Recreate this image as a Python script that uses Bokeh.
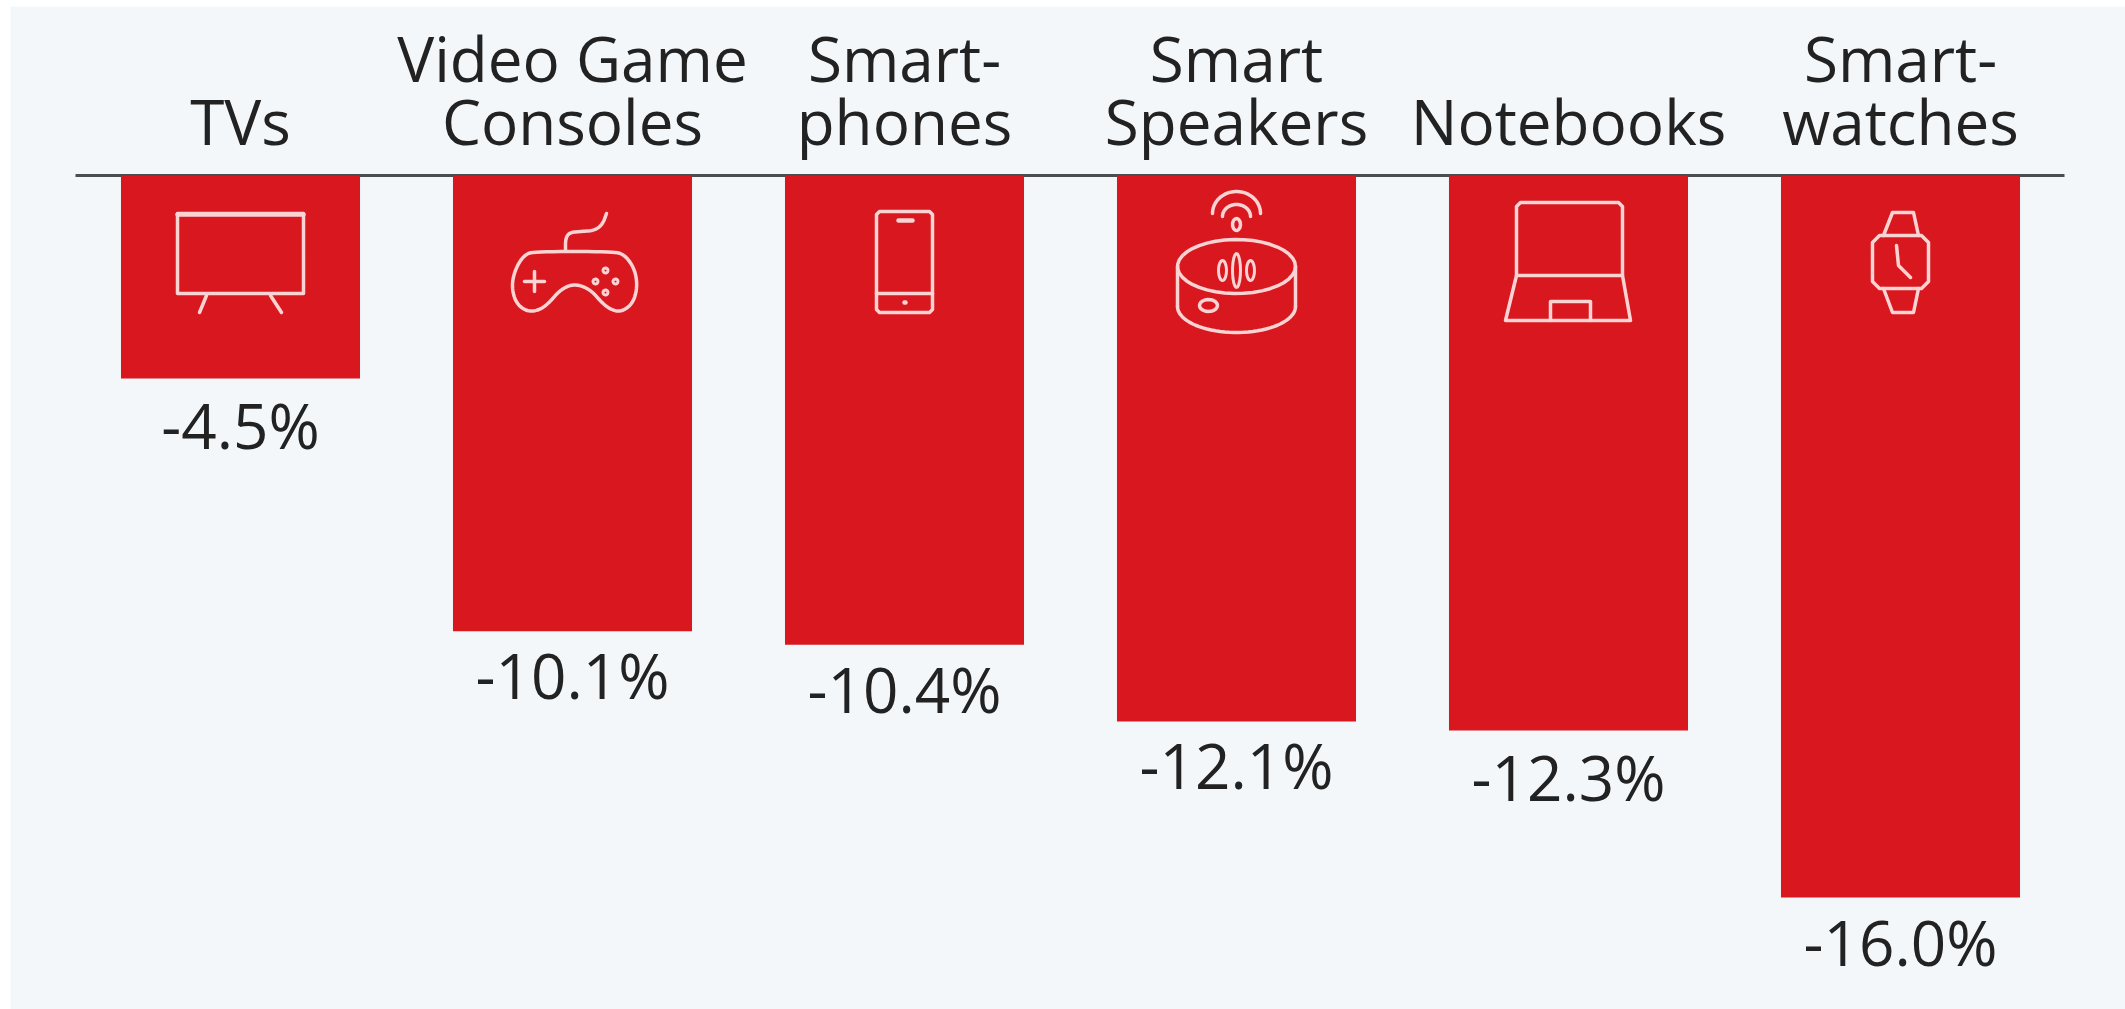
import numpy as np
from bokeh.embed import file_html
from bokeh.models import ColumnDataSource, Range1d
from bokeh.plotting import figure
from bokeh.resources import INLINE
from bokeh.core.properties import value

# ---------- data ----------
categories = ["TVs", "Video Game Consoles", "Smartphones", "Smart Speakers", "Notebooks", "Smartwatches"]
label_line1 = ["", "Video Game", "Smart-", "Smart", "", "Smart-"]
label_line2 = ["TVs", "Consoles", "phones", "Speakers", "Notebooks", "watches"]
values = [-4.5, -10.1, -10.4, -12.1, -12.3, -16.0]
value_labels = ["-4.5%", "-10.1%", "-10.4%", "-12.1%", "-12.3%", "-16.0%"]

# ---------- style / layout ----------
W, H = 2125, 1009
LEFT, TOP = 10, 6              # white strip round the panel
PX_X, PX_Y = 332.0, 45.12      # pixels per category, pixels per percentage point
X0 = -(240 - LEFT) / PX_X
Y_TOP = (175 - TOP) / PX_Y
BG, RED, INK, ICON = "#f3f7fa", "#d8171f", "#222222", "#fbd3d3"
FONT = value("Open Sans")
FONT_SIZE = "62px"

xs = list(range(len(values)))
p = figure(width=W, height=H, output_backend="svg", toolbar_location=None,
           x_range=Range1d(X0, X0 + (W - LEFT) / PX_X), y_range=Range1d(Y_TOP - (H - TOP) / PX_Y, Y_TOP),
           background_fill_color=BG, border_fill_color="white", outline_line_color=None,
           min_border=0, min_border_left=LEFT, min_border_top=TOP)
p.axis.visible = False
p.grid.visible = False

# baseline rule
p.line([(75 - 240) / PX_X, (2064 - 240) / PX_X], [0, 0], line_color="#4d4d4d", line_width=3)

# bars
src = ColumnDataSource(dict(x=xs, top=[0] * len(values), bottom=values, label=value_labels,
                            l1=label_line1, l2=label_line2,
                            off=[46, 44, 44, 44, 47, 45]))
p.vbar(x="x", top="top", bottom="bottom", width=0.72, fill_color=RED, line_color=None, source=src)

# texts
common = dict(text_font=FONT, text_font_size=FONT_SIZE, text_color=INK, text_align="center",
              text_baseline="alphabetic")
p.text(x="x", y="bottom", text="label", y_offset="off", source=src, **common)
p.text(x="x", y="top", text="l1", y_offset=-118, source=src, **common)
p.text(x="x", y="top", text="l2", y_offset=-55, source=src, **common)


# ---------- decorative icons, drawn in pixels relative to the bar's centre ----------
def path(i, pts, width=3.5):
    a = np.array(pts, float)
    p.line(i + a[:, 0] / PX_X, -(a[:, 1] - 175) / PX_Y, line_color=ICON, line_width=width,
           line_join="round", line_cap="round")


def smooth(pts, rounds=3):
    a = np.array(pts, float)
    closed = np.allclose(a[0], a[-1])
    for _ in range(rounds):
        q, r = a[:-1] * 0.75 + a[1:] * 0.25, a[:-1] * 0.25 + a[1:] * 0.75
        b = np.empty((len(q) * 2, 2))
        b[0::2], b[1::2] = q, r
        a = np.vstack([b, b[:1]]) if closed else np.vstack([a[:1], b, a[-1:]])
    return a.tolist()


def arc(cx, cy, rx, ry, a0, a1, n=40):
    t = np.radians(np.linspace(a0, a1, n))
    return np.column_stack([cx + rx * np.cos(t), cy - ry * np.sin(t)]).tolist()


def box(x0, y0, x1, y1):
    return [(x0, y0), (x1, y0), (x1, y1), (x0, y1), (x0, y0)]


# TV
path(0, box(-63, 213, 63, 293))
path(0, [(-63, 214), (63, 214)], 4.5)
path(0, [(-34, 295), (-41, 312)])
path(0, [(30, 295), (41, 312)])

# Game controller
path(1, smooth([(-37, 251), (40, 251), (52, 254), (62, 268), (65, 285), (61, 302), (50, 311), (40, 310),
                (30, 303), (18, 289), (2, 283), (-12, 289), (-24, 303), (-34, 310),
                (-46, 311), (-57, 302), (-61, 285), (-57, 268), (-48, 254), (-37, 251)]))
path(1, smooth([(-7, 250), (-7, 238), (-3, 232), (8, 231), (22, 230), (30, 224), (34, 213)]))
path(1, [(-38, 271), (-38, 291)])
path(1, [(-48, 281), (-28, 281)])
for dx, dy in [(33, 270), (33, 292), (23, 281), (43, 281)]:
    path(1, arc(dx, dy, 2.5, 2.5, 0, 360, 14), 3)

# Phone
path(2, [(-25, 211), (25, 211), (28, 214), (28, 309), (25, 312), (-25, 312), (-28, 309), (-28, 214), (-25, 211)])
path(2, [(-28, 293), (28, 293)])
path(2, [(-6, 220), (8, 220)], 4.5)
path(2, [(0, 302), (1, 302)], 4.5)

# Smart speaker
path(3, arc(0, 266, 59, 27, 0, 360))
path(3, [(-59, 266), (-59, 306)])
path(3, [(59, 266), (59, 306)])
path(3, arc(0, 306, 59, 26, 180, 360))
path(3, arc(-28, 305, 9, 6, 0, 360, 20))
path(3, arc(0, 270, 4, 17, 0, 360, 20), 3)
path(3, arc(-14, 270, 4, 10, 0, 360, 20), 3)
path(3, arc(14, 270, 4, 10, 0, 360, 20), 3)
path(3, arc(0, 224, 4, 6, 0, 360, 14))
path(3, arc(0, 216, 14, 12, 0, 180))
path(3, arc(0, 213, 24, 22, 0, 180))

# Notebook
path(4, [(-52, 275), (-52, 206), (-48, 202), (50, 202), (54, 206), (54, 275)])
path(4, [(-52, 275), (54, 275), (62, 320), (-63, 320), (-52, 275)])
path(4, [(-18, 320), (-18, 301), (22, 301), (22, 320)])

# Smartwatch
path(5, [(-21, 235), (21, 235), (28, 242), (28, 281), (21, 288), (-21, 288), (-28, 281), (-28, 242), (-21, 235)])
path(5, [(-17, 235), (-8, 212), (13, 212), (18, 235)])
path(5, [(-17, 288), (-8, 312), (13, 312), (18, 288)])
path(5, [(-4, 245), (-2, 265), (10, 277)])

open("out.html", "w").write(file_html(p, INLINE))
